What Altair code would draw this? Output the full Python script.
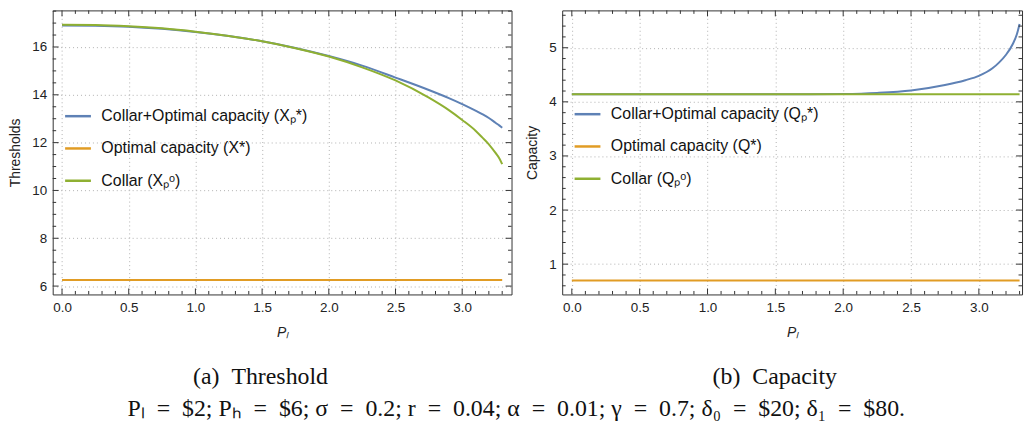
import altair as alt
import pandas as pd

# ---------------- data ----------------
pl_values = [0.0, 0.25, 0.5, 0.75, 1.0, 1.25, 1.5, 1.75, 2.0, 2.25, 2.5, 2.75,
             2.9, 3.0, 3.1, 3.15, 3.2, 3.25, 3.28, 3.3]

thr_collar_opt = [16.90, 16.89, 16.85, 16.76, 16.63, 16.46, 16.24, 15.96, 15.62, 15.22,
                  14.72, 14.20, 13.86, 13.61, 13.34, 13.19, 13.03, 12.83, 12.71, 12.62]
thr_optimal = [6.25] * len(pl_values)
thr_collar = [16.93, 16.92, 16.87, 16.78, 16.64, 16.46, 16.24, 15.95, 15.60, 15.15,
              14.60, 13.88, 13.36, 12.95, 12.50, 12.22, 11.93, 11.57, 11.33, 11.10]

cap_collar_opt = [4.14, 4.14, 4.14, 4.14, 4.14, 4.14, 4.14, 4.14, 4.145, 4.165,
                  4.21, 4.31, 4.40, 4.48, 4.62, 4.73, 4.87, 5.07, 5.25, 5.44]
cap_optimal = [0.70] * len(pl_values)
cap_collar = [4.14] * len(pl_values)

thr_names = ["Collar+Optimal capacity (Xₚ*)", "Optimal capacity (X*)", "Collar (Xₚᵒ)"]
cap_names = ["Collar+Optimal capacity (Qₚ*)", "Optimal capacity (Q*)", "Collar (Qₚᵒ)"]

x_major = [0.0, 0.5, 1.0, 1.5, 2.0, 2.5, 3.0]
x_minor = [round(i / 10, 1) for i in range(0, 34) if i % 5 != 0]
thr_major = [6, 8, 10, 12, 14, 16]
thr_minor = [v / 2 for v in range(12, 36) if v % 4 != 0]
cap_major = [1, 2, 3, 4, 5]
cap_minor = [round(v / 5, 1) for v in range(3, 29) if v % 5 != 0]

caption_a = "(a)\u2002Threshold"
caption_b = "(b)\u2002Capacity"
formula = ("Pₗ\u2002=\u2002$2; Pₕ\u2002=\u2002$6; σ\u2002=\u20020.2; r\u2002=\u20020.04; "
           "α\u2002=\u20020.01; γ\u2002=\u20020.7; δ₀\u2002=\u2002$20; δ₁\u2002=\u2002$80.")

# ---------------- style ----------------
COLORS = ["#5E81B5", "#E19C24", "#8FB032"]
FONT = "Liberation Sans"
SERIF = "Liberation Serif"
FRAME = "#333333"


def panel(names, values, xdomain, ydomain, ytitle, caption, ymaj, ymin_, W, H, lx, ly):
    rows = []
    for name, vals in zip(names, values):
        for x, v in zip(pl_values, vals):
            rows.append({"PL": x, "val": v, "series": name})
    df = pd.DataFrame(rows)
    xscale = alt.Scale(domain=xdomain, nice=False, zero=False)
    yscale = alt.Scale(domain=ydomain, nice=False, zero=False)

    xaxis = alt.Axis(values=x_major, format=".1f", title="Pₗ",
                     titleFontStyle="italic", labelFlush=False)
    yaxis = alt.Axis(values=ymaj, format="d", title=ytitle)

    lines = alt.Chart(df).mark_line(strokeWidth=2, interpolate="monotone").encode(
        x=alt.X("PL:Q", scale=xscale, axis=xaxis),
        y=alt.Y("val:Q", scale=yscale, axis=yaxis),
        color=alt.Color("series:N", sort=names,
                        scale=alt.Scale(domain=names, range=COLORS),
                        legend=alt.Legend(title=None, orient="none", legendX=lx, legendY=ly,
                                          symbolType="stroke", symbolSize=676,
                                          symbolStrokeWidth=2.5, labelFont=FONT,
                                          labelFontSize=16, labelColor="#111111",
                                          rowPadding=9.5, labelOffset=9, padding=0,
                                          labelLimit=500)),
    )

    layers = [lines]
    for vals, L in [(x_major, 6), (x_minor, 3.5)]:
        d = pd.DataFrame({"PL": vals})
        base = alt.Chart(d).mark_rule(color=FRAME, strokeWidth=1)
        layers.append(base.encode(x=alt.X("PL:Q", scale=xscale, axis=xaxis),
                                  y=alt.value(H), y2=alt.value(H - L)))
        layers.append(base.encode(x=alt.X("PL:Q", scale=xscale, axis=xaxis),
                                  y=alt.value(0), y2=alt.value(L)))
    for vals, L in [(ymaj, 6), (ymin_, 3.5)]:
        d = pd.DataFrame({"val": vals})
        base = alt.Chart(d).mark_rule(color=FRAME, strokeWidth=1)
        layers.append(base.encode(y=alt.Y("val:Q", scale=yscale, axis=yaxis),
                                  x=alt.value(0), x2=alt.value(L)))
        layers.append(base.encode(y=alt.Y("val:Q", scale=yscale, axis=yaxis),
                                  x=alt.value(W), x2=alt.value(W - L)))

    return alt.layer(*layers).properties(
        width=W, height=H,
        title=alt.TitleParams(caption, orient="bottom", anchor="middle", frame="bounds",
                              font=SERIF, fontSize=24, fontWeight="normal",
                              color="#111111", offset=26),
    )


left = panel(thr_names, [thr_collar_opt, thr_optimal, thr_collar], [-0.07, 3.37],
             [5.65, 17.53], "Thresholds", caption_a, thr_major, thr_minor, 462, 286, 11, 92)
right = panel(cap_names, [cap_collar_opt, cap_optimal, cap_collar], [-0.071, 3.318],
              [0.44, 5.69], "Capacity", caption_b, cap_major, cap_minor, 463, 286, 11, 90)

chart = alt.hconcat(left, right, spacing=12).resolve_scale(
    color="independent"
).properties(
    padding={"left": 0, "top": 0, "right": 0, "bottom": 0},
    title=alt.TitleParams(formula, orient="bottom", anchor="middle", font=SERIF,
                          fontSize=24, fontWeight="normal", color="#111111", offset=7),
).configure_view(
    stroke=FRAME, strokeWidth=1
).configure_axis(
    labelFont=FONT, labelFontSize=13.5, labelColor="#222222",
    titleFont=FONT, titleFontSize=14, titleFontWeight="normal", titleColor="#222222",
    grid=True, gridColor="#b0b0b0", gridDash=[1, 3], gridWidth=1,
    ticks=False, domain=False, labelPadding=6,
).configure_axisX(titlePadding=12).configure_axisY(titlePadding=9)

chart.save("out.html", embed_options={"renderer": "svg", "actions": False})
